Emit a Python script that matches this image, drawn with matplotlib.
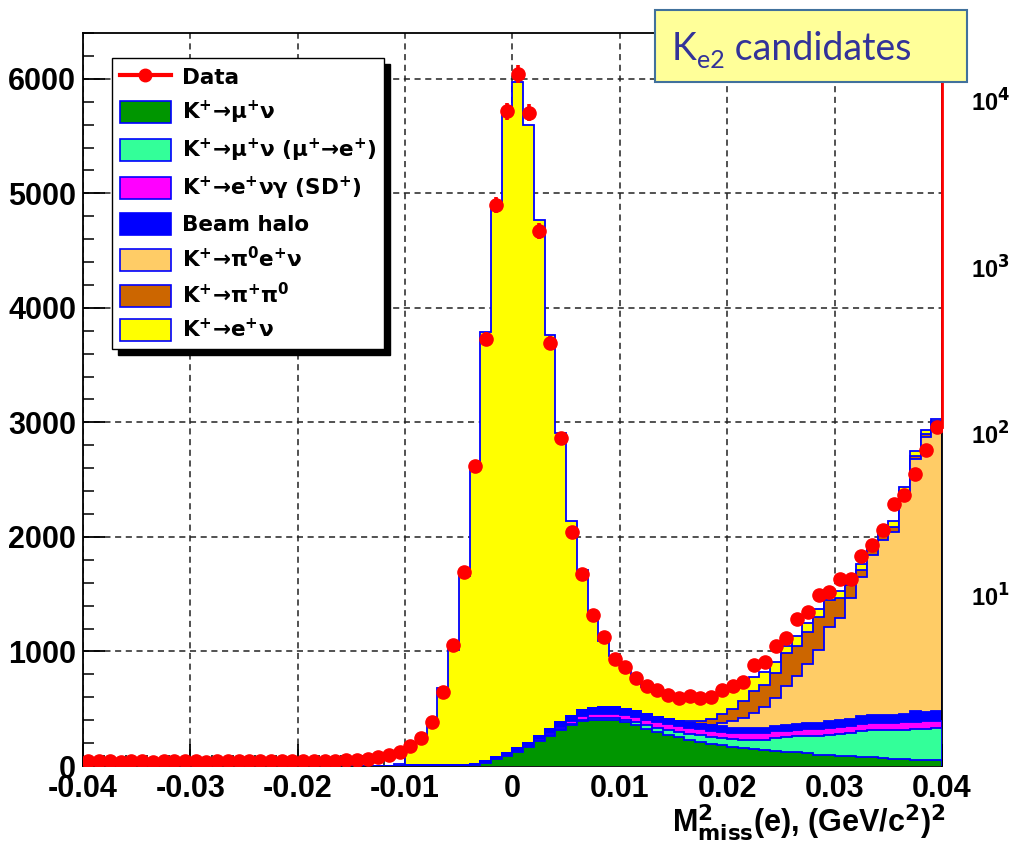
import numpy as np
import matplotlib
matplotlib.use("Agg")
import matplotlib.pyplot as plt
from matplotlib.patches import Patch, Rectangle
from matplotlib.lines import Line2D
from matplotlib.text import Annotation
from matplotlib.ticker import FixedLocator, MultipleLocator, FixedFormatter

plt.rcParams['font.family'] = ['Liberation Sans', 'DejaVu Sans']
plt.rcParams['font.weight'] = 'bold'
plt.rcParams['mathtext.fontset'] = 'custom'
plt.rcParams['mathtext.rm'] = 'DejaVu Sans:bold'
plt.rcParams['mathtext.it'] = 'DejaVu Sans:bold'
plt.rcParams['mathtext.bf'] = 'DejaVu Sans:bold'

# ---------------- data ----------------
x_min, x_max, n_bins = -0.04, 0.04, 80
edges = np.linspace(x_min, x_max, n_bins + 1)
centers = 0.5 * (edges[:-1] + edges[1:])

data = [42, 40, 45, 38, 41, 44, 39, 43, 40, 46,
        42, 39, 44, 41, 45, 43, 40, 47, 44, 42,
        46, 45, 48, 44, 50, 55, 65, 80, 95, 125,
        171, 245, 381, 643, 1059, 1691, 2623, 3729, 4902, 5717,
        6040, 5703, 4669, 3690, 2865, 2044, 1677, 1321, 1127, 937,
        865, 765, 695, 663, 618, 590, 614, 594, 603, 666,
        695, 730, 880, 910, 1048, 1115, 1281, 1342, 1496, 1522,
        1630, 1630, 1834, 1933, 2064, 2291, 2369, 2553, 2762, 2960]

k_munu = [0] * 36 + [10, 30, 60, 90,
          125, 165, 215, 265, 315, 360, 395, 405, 405, 400,
          385, 360, 325, 300, 275, 250, 228, 212, 195, 180,
          162, 155, 145, 138, 130, 125, 120, 110, 100, 96,
          88, 85, 82, 80, 66, 63, 60, 56, 53, 53]

k_munu_mue = [0] * 40 + [2, 3, 4, 5, 6, 8, 10, 12, 15, 18,
              20, 25, 30, 36, 42, 46, 50, 55, 60, 66,
              70, 76, 82, 90, 115, 125, 138, 150, 165, 178,
              192, 205, 220, 232, 245, 252, 258, 265, 272, 277]

k_enug_sd = [0] * 38 + [3, 5,
             8, 10, 14, 18, 22, 26, 30, 34, 38, 40,
             42, 44, 45, 46, 48, 50, 52, 53, 54, 55,
             55, 56, 57, 58, 58, 58, 59, 60, 60, 60,
             60, 61, 62, 62, 63, 63, 64, 64, 65, 65]

beam_halo = [0] * 29 + [3,
             5, 5, 5, 5, 5, 6, 8, 10, 15, 18,
             22, 26, 30, 35, 40, 45, 50, 52, 55, 55,
             55, 52, 50, 48, 47, 46, 45, 45, 45, 46,
             46, 47, 48, 48, 50, 50, 51, 52, 53, 55,
             58, 62, 70, 72, 72, 70, 75, 95, 80, 82]

k_pi0enu = [0] * 58 + [5, 25,
            58, 87, 130, 185, 238, 338, 422, 520, 631, 824,
            897, 1051, 1216, 1395, 1528, 1596, 1911, 2197, 2405, 2514]

k_pipi0 = [0] * 55 + [3, 15, 30, 50, 80,
           110, 150, 189, 189, 218, 290, 260, 280, 290, 233,
           174, 117, 58, 55, 50, 45, 35, 30, 25, 20]

k_enu = [0] * 29 + [17,
         140, 222, 356, 676, 1011, 1650, 2585, 3750, 4795, 5575,
         5816, 5397, 4508, 3444, 2528, 1698, 1230, 790, 575, 450,
         348, 280, 240, 220, 208, 200, 200, 190, 185, 200,
         180, 140, 130, 110, 95, 62, 87, 73, 73, 59,
         59, 60, 58, 45, 45, 50, 30, 40, 30, 15]

components = [k_munu, k_munu_mue, k_enug_sd, beam_halo, k_pi0enu, k_pipi0, k_enu]
labels = ['K$^{+}$\u2192\u03bc$^{+}$\u03bd',
          'K$^{+}$\u2192\u03bc$^{+}$\u03bd (\u03bc$^{+}$\u2192e$^{+}$)',
          'K$^{+}$\u2192e$^{+}$\u03bd\u03b3 (SD$^{+}$)',
          'Beam halo',
          'K$^{+}$\u2192\u03c0$^{0}$e$^{+}$\u03bd',
          'K$^{+}$\u2192\u03c0$^{+}$\u03c0$^{0}$',
          'K$^{+}$\u2192e$^{+}$\u03bd']
colors = ['#009600', '#33FF99', '#FF00FF', '#0000FF', '#FFCC66', '#CC6600', '#FFFF00']

xticks = [-0.04, -0.03, -0.02, -0.01, 0.0, 0.01, 0.02, 0.03, 0.04]
xtick_labels = ['-0.04', '-0.03', '-0.02', '-0.01', '0', '0.01', '0.02', '0.03', '0.04']
yticks = [0, 1000, 2000, 3000, 4000, 5000, 6000]
y_max = 6400
right_labels = ['10$^{4}$', '10$^{3}$', '10$^{2}$', '10$^{1}$']

# ---------------- figure ----------------
fig = plt.figure(figsize=(10.12, 8.46), dpi=100)
ax = fig.add_axes([83 / 1012, 1 - 766 / 846, 859 / 1012, 733 / 846])

stack = np.cumsum(np.array(components, dtype=float), axis=0)
for k in range(len(components) - 1, -1, -1):
    ax.stairs(stack[k], edges, fill=True, color=colors[k], zorder=2 + (7 - k) * 0.1)
    ax.stairs(stack[k], edges, color='#0000FF', lw=1.3, zorder=2.05 + (7 - k) * 0.1)

data_arr = np.array(data, dtype=float)
ax.errorbar(centers, data_arr, xerr=0.5 * np.diff(edges), yerr=np.sqrt(data_arr),
            fmt='o', color='red', ms=9.5, elinewidth=2.6, capsize=0, zorder=10)
ax.plot([edges[-1], edges[-1]], [data_arr[-1], y_max], color='red', lw=2, zorder=10,
        clip_on=False)

ax.set_xlim(x_min, x_max)
ax.set_ylim(0, y_max)
ax.xaxis.set_major_locator(FixedLocator(xticks))
ax.xaxis.set_major_formatter(FixedFormatter(xtick_labels))
ax.xaxis.set_minor_locator(MultipleLocator(0.002))
ax.yaxis.set_major_locator(FixedLocator(yticks))
ax.yaxis.set_minor_locator(MultipleLocator(200))
ax.tick_params(which='major', direction='in', length=16, width=1.3, labelsize=22, pad=5)
ax.tick_params(which='minor', direction='in', length=8, width=1.1)
ax.tick_params(axis='x', pad=6)
for lab in ax.get_xticklabels() + ax.get_yticklabels():
    lab.set_fontweight('bold')
ax.set_axisbelow(True)
ax.grid(True, which='major', linestyle=(0, (4, 3)), color='#222222', lw=1.1)
for sp in ax.spines.values():
    sp.set_linewidth(1.3)

# legend
handles = [Line2D([], [], color='red', marker='o', lw=3, ms=9)]
for c in colors:
    handles.append(Patch(facecolor=c, edgecolor='#0000FF', lw=1.2))
leg = ax.legend(handles, ['Data'] + labels, loc='upper left',
                bbox_to_anchor=((112 - 83) / 859, (766 - 58) / 733),
                prop={'family': 'DejaVu Sans', 'weight': 'bold', 'size': 15.5},
                frameon=True, fancybox=False, framealpha=1, edgecolor='black',
                handlelength=2.4, handleheight=1.2, labelspacing=0.5,
                borderpad=0.35, handletextpad=0.5, borderaxespad=0)
leg.get_frame().set_linewidth(1.0)
leg.set_zorder(20)

# axis title
fig.text(946 / 1012, 1 - 822 / 846, 'M$^{2}_{miss}$(e), (GeV/c$^{2}$)$^{2}$',
         ha='right', va='center', fontsize=22, fontweight='bold')

# right-side labels
for lab, ypix in zip(right_labels, [103, 270, 436, 598]):
    fig.text(971 / 1012, 1 - ypix / 846, lab, ha='left', va='center',
             fontsize=17, fontweight='bold')

# cut-off title remnant at the very top
fig.text(542 / 1012, 1 + 1 / 846, 'e2', ha='center', va='baseline', fontsize=46,
         fontweight='bold', color='#555555')

# Ke2 candidates box
fig.add_artist(Rectangle((655 / 1012, 1 - 82 / 846), (967 - 655) / 1012, 72 / 846,
                         transform=fig.transFigure, facecolor='#FFFF99',
                         edgecolor='#41719C', lw=1.5, zorder=30))
box_color = '#333399'
t1 = fig.text(672 / 1012, 1 - 60 / 846, 'K', fontsize=27, family='Lato',
              fontweight='normal', color=box_color, va='baseline', zorder=31)
t2 = Annotation('e2', xy=(1, 0), xycoords=t1, xytext=(0.5, -1),
                textcoords='offset points', fontsize=18, family='Lato',
                fontweight='normal', color=box_color, va='baseline',
                annotation_clip=False, zorder=31)
fig.add_artist(t2)

fig.canvas.draw()
renderer = fig.canvas.get_renderer()
ext2 = t2.get_window_extent(renderer)
fig.text(ext2.x1 / fig.bbox.width, 1 - 60 / 846, ' candidates', fontsize=27,
         family='Lato', fontweight='normal', color=box_color, va='baseline', zorder=31)

# legend shadow
bb = leg.get_window_extent(renderer)
ax.add_artist(Rectangle((bb.x0 + 6, bb.y0 - 6), bb.width, bb.height,
                        transform=None, facecolor='black', edgecolor='black',
                        zorder=19, clip_on=False))

fig.savefig('out.png', dpi=100)
